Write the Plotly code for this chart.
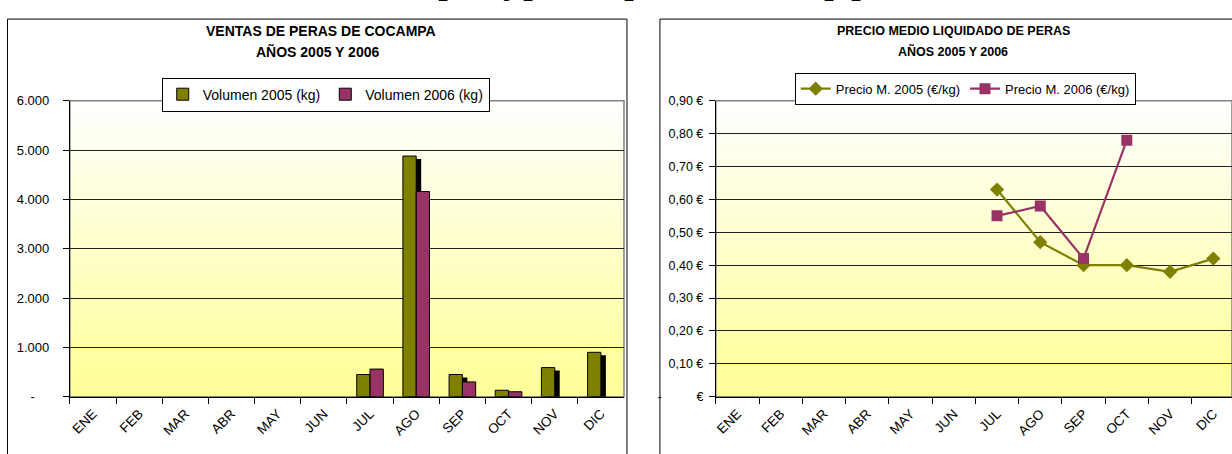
import plotly.graph_objects as go

# ---- data -------------------------------------------------------------
meses = ["ENE", "FEB", "MAR", "ABR", "MAY", "JUN",
         "JUL", "AGO", "SEP", "OCT", "NOV", "DIC"]

volumen_2005 = [None, None, None, None, None, None, 450, 4880, 450, 130, 590, 900]
volumen_2006 = [None, None, None, None, None, None, 560, 4160, 300, 100, None, None]

precio_2005 = [None, None, None, None, None, None, 0.63, 0.47, 0.40, 0.40, 0.38, 0.42]
precio_2006 = [None, None, None, None, None, None, 0.55, 0.58, 0.42, 0.78, None, None]

vol_ticks = [0, 1000, 2000, 3000, 4000, 5000, 6000]
vol_ticktext = ["-\u00a0\u00a0\u00a0\u00a0", "1.000", "2.000", "3.000", "4.000", "5.000", "6.000"]

precio_ticks = [0, 0.1, 0.2, 0.3, 0.4, 0.5, 0.6, 0.7, 0.8, 0.9]
precio_ticktext = ["-\u00a0\u00a0\u00a0\u00a0\u00a0\u00a0\u00a0\u00a0\u00a0\u00a0€",
                   "0,10 €", "0,20 €", "0,30 €", "0,40 €", "0,50 €",
                   "0,60 €", "0,70 €", "0,80 €", "0,90 €"]

# ---- page geometry (pixels) -------------------------------------------
W, H = 1232, 454
FONT = "Liberation Sans, Arial, sans-serif"
OLIVA = "#808000"
GRANATE = "#993366"


def px(x):
    return x / W


def py(y):
    return 1 - y / H


fig = go.Figure()

# bar width in category units and drop shadow of the 2005 bars
bw = 0.288
shadow_dx = 5 / 46.25
shadow_dy = 3 * 6000 / 306

fig.add_trace(go.Bar(
    x=meses, y=volumen_2005, base=-shadow_dy,
    offset=-bw + shadow_dx, width=bw,
    marker=dict(color="black", line=dict(width=0)),
    showlegend=False, hoverinfo="skip",
    xaxis="x", yaxis="y",
))
fig.add_trace(go.Bar(
    x=meses, y=volumen_2005, name="Volumen 2005 (kg)",
    offset=-bw, width=bw,
    marker=dict(color=OLIVA, line=dict(color="black", width=1)),
    xaxis="x", yaxis="y", legend="legend",
))
fig.add_trace(go.Bar(
    x=meses, y=volumen_2006, name="Volumen 2006 (kg)",
    offset=0, width=bw,
    marker=dict(color=GRANATE, line=dict(color="black", width=1)),
    xaxis="x", yaxis="y", legend="legend",
))

fig.add_trace(go.Scatter(
    x=meses, y=precio_2005, name="Precio M. 2005 (€/kg)",
    mode="lines+markers",
    line=dict(color=OLIVA, width=2.2),
    marker=dict(symbol="diamond", size=11, color=OLIVA),
    xaxis="x2", yaxis="y2", legend="legend2",
))
fig.add_trace(go.Scatter(
    x=meses, y=precio_2006, name="Precio M. 2006 (€/kg)",
    mode="lines+markers",
    line=dict(color=GRANATE, width=2.2),
    marker=dict(symbol="square", size=11, color=GRANATE),
    xaxis="x2", yaxis="y2", legend="legend2",
))

ydom = [py(403), py(97)]

common_x = dict(
    type="category", tickson="boundaries", ticks="outside", ticklen=6,
    tickcolor="black", showline=True, linecolor="black", linewidth=1,
    showgrid=False, tickangle=-45, ticklabelstandoff=3,
    tickfont=dict(family=FONT, size=13.5, color="black"),
)
common_y = dict(
    ticks="outside", ticklen=6, tickcolor="black", showline=True,
    linecolor="black", linewidth=1, showgrid=True, gridcolor="#202020",
    gridwidth=1, zeroline=False,
)

fig.update_layout(
    width=W, height=H, autosize=False,
    margin=dict(l=0, r=0, t=0, b=0),
    paper_bgcolor="white", plot_bgcolor="rgba(0,0,0,0)",
    barmode="overlay",
    font=dict(family=FONT, color="black"),
    xaxis=dict(common_x, domain=[px(68), px(623)], range=[-0.5, 11.5],
               anchor="y", categoryorder="array", categoryarray=meses),
    yaxis=dict(common_y, domain=ydom, range=[0, 6000], anchor="x",
               tickvals=vol_ticks, ticktext=vol_ticktext,
               ticklabelstandoff=11,
               tickfont=dict(family=FONT, size=13, color="black")),
    xaxis2=dict(common_x, domain=[px(715), 1.0],
                range=[-0.5, -0.5 + (W - 715) / 43.33],
                anchor="y2", categoryorder="array", categoryarray=meses),
    yaxis2=dict(common_y, domain=ydom, range=[0, 0.9], anchor="x2",
                tickvals=precio_ticks, ticktext=precio_ticktext,
                ticklabelstandoff=3,
                tickfont=dict(family=FONT, size=12.5, color="black")),
    legend=dict(
        x=px(160), y=py(73), xanchor="left", yanchor="top",
        orientation="h", bgcolor="white", bordercolor="black", borderwidth=1,
        font=dict(family=FONT, size=14, color="black"),
        itemwidth=30, tracegroupgap=0,
    ),
    legend2=dict(
        x=px(794), y=py(68), xanchor="left", yanchor="top",
        orientation="h", bgcolor="white", bordercolor="black", borderwidth=1,
        font=dict(family=FONT, size=13, color="black"),
        itemwidth=30, tracegroupgap=0,
    ),
    showlegend=True,
)

shapes = []

# chart frames
shapes.append(dict(type="rect", xref="paper", yref="paper",
                   x0=px(5.5), x1=px(626), y0=-0.05, y1=py(12.5),
                   line=dict(color="black", width=1), fillcolor="white",
                   layer="below"))
shapes.append(dict(type="rect", xref="paper", yref="paper",
                   x0=px(659), x1=1.05, y0=-0.05, y1=py(12.5),
                   line=dict(color="black", width=1), fillcolor="white",
                   layer="below"))

# white-to-yellow vertical gradient behind each plot area
n = 60
top = (255, 255, 255)
bot = (255, 255, 150)
for xr, yr in (("x domain", "y domain"), ("x2 domain", "y2 domain")):
    for i in range(n):
        t = (i + 0.5) / n
        c = tuple(round(top[k] + (bot[k] - top[k]) * t) for k in range(3))
        shapes.append(dict(type="rect", xref=xr, yref=yr,
                           x0=0, x1=1, y0=1 - (i + 1) / n, y1=1 - i / n + 0.002,
                           line=dict(width=0),
                           fillcolor="rgb(%d,%d,%d)" % c, layer="below"))
    shapes.append(dict(type="rect", xref=xr, yref=yr, x0=0, x1=1, y0=0, y1=1,
                       line=dict(color="#808080", width=1.5), layer="below"))

fig.update_layout(shapes=shapes)

annotations = [
    dict(text="<b>VENTAS DE PERAS DE COCAMPA</b>", x=px(320), y=py(25), size=14),
    dict(text="<b>AÑOS 2005 Y 2006</b>", x=px(316), y=py(46), size=14),
    dict(text="<b>PRECIO MEDIO LIQUIDADO DE PERAS</b>", x=px(953), y=py(25), size=12.5),
    dict(text="<b>AÑOS 2005 Y 2006</b>", x=px(953), y=py(46), size=12.5),
]
for a in annotations:
    size = a.pop("size")
    a.update(xref="paper", yref="paper", xanchor="center", yanchor="middle",
             showarrow=False, font=dict(family=FONT, size=size, color="black"))

# lower edge of the line of body text above the charts
for letra, xp in (("p", 447), ("yp", 522), ("p", 633), ("p", 833), ("p", 860)):
    annotations.append(dict(
        text=letra, x=px(xp), y=py(-4), xref="paper", yref="paper",
        xanchor="center", yanchor="bottom", showarrow=False,
        font=dict(family="Liberation Serif, Times New Roman, serif",
                  size=40, color="black"),
    ))

fig.update_layout(annotations=annotations)

fig.write_html("out.html")
